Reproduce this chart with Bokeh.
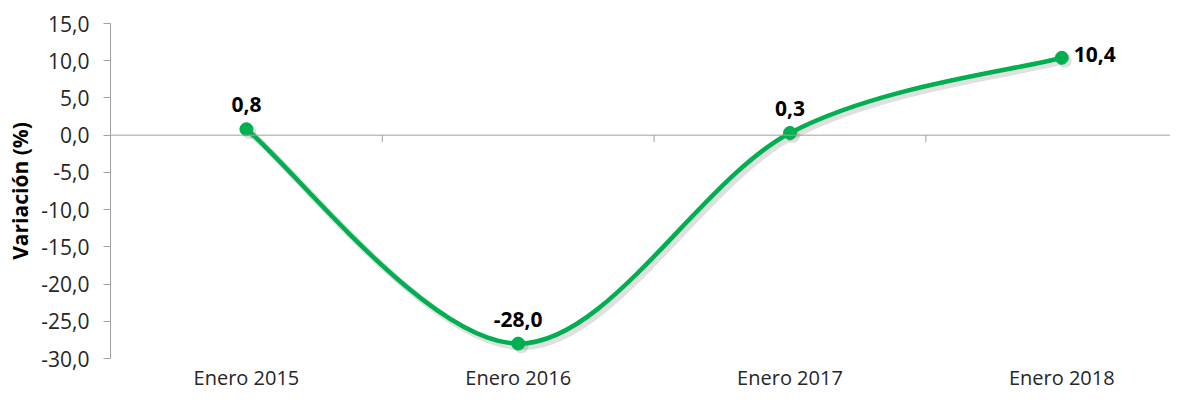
from bokeh.plotting import figure
from bokeh.models import LinearAxis, FixedTicker, Range1d, ColumnDataSource, Span
from bokeh.embed import file_html
from bokeh.resources import INLINE
from bokeh.core.properties import value

categories = ["Enero 2015", "Enero 2016", "Enero 2017", "Enero 2018"]
values = [0.8, -28.0, 0.3, 10.4]
value_labels = ["0,8", "-28,0", "0,3", "10,4"]
y_ticks = [-30, -25, -20, -15, -10, -5, 0, 5, 10, 15]
y_tick_labels = ["-30,0", "-25,0", "-20,0", "-15,0", "-10,0", "-5,0", "0,0", "5,0", "10,0", "15,0"]

GREEN = "#00B050"
AXIS = "#A0A0A0"
TXT = "#262626"
FONT = "Open Sans"

xs = list(range(len(categories)))
Y0, Y1 = -30, 15
X0, X1 = -0.5, 3.40

W, H = 1170, 394
LEFT, TOP, BOTTOM = 110, 23, 36

p = figure(width=W, height=H, output_backend="svg", toolbar_location=None,
           x_range=Range1d(X0, X1), y_range=Range1d(Y0, Y1),
           x_axis_type=None, y_axis_type=None,
           min_border_left=LEFT, min_border_right=0, min_border_top=TOP, min_border_bottom=BOTTOM)
p.outline_line_color = None
p.xgrid.grid_line_color = None
p.ygrid.grid_line_color = None

# y axis
yax = LinearAxis(ticker=FixedTicker(ticks=y_ticks),
                 major_label_overrides={t: l for t, l in zip(y_ticks, y_tick_labels)})
yax.axis_line_color = AXIS
yax.major_tick_line_color = AXIS
yax.major_tick_in = 0
yax.major_tick_out = 7
yax.minor_tick_line_color = None
yax.major_label_text_font = FONT
yax.major_label_text_font_size = "21px"
yax.major_label_text_color = TXT
yax.major_label_standoff = 14
yax.axis_label = "Variación (%)"
yax.axis_label_text_font = FONT
yax.axis_label_text_font_style = "bold"
yax.axis_label_text_font_size = "21px"
yax.axis_label_text_color = "#000000"
yax.axis_label_standoff = 4
p.add_layout(yax, "left")

# category labels at bottom
xlab = LinearAxis(ticker=FixedTicker(ticks=xs),
                  major_label_overrides={i: c for i, c in zip(xs, categories)})
xlab.axis_line_color = None
xlab.major_tick_line_color = None
xlab.minor_tick_line_color = None
xlab.major_tick_in = 0
xlab.major_tick_out = 0
xlab.major_label_text_font = FONT
xlab.major_label_text_font_size = "20px"
xlab.major_label_text_color = TXT
xlab.major_label_standoff = 5
p.add_layout(xlab, "below")

# zero line with category boundary ticks
p.add_layout(Span(location=0, dimension="width", line_color=AXIS, line_width=1))
frame_h = H - TOP - BOTTOM
frame_w = W - LEFT
bounds = [i + 0.5 for i in xs]
tick_len = 7 * (Y1 - Y0) / frame_h
p.segment(x0=bounds, y0=[0] * len(bounds), x1=bounds, y1=[-tick_len] * len(bounds),
          line_color=AXIS, line_width=1)

# smooth curve (Catmull-Rom style bezier from the data points)
pts = list(zip(xs, values))
n = len(pts)
seg = dict(x0=[], y0=[], x1=[], y1=[], cx0=[], cy0=[], cx1=[], cy1=[])
for i in range(n - 1):
    p0 = pts[max(i - 1, 0)]
    p1 = pts[i]
    p2 = pts[i + 1]
    p3 = pts[min(i + 2, n - 1)]
    seg["x0"].append(p1[0]); seg["y0"].append(p1[1])
    seg["x1"].append(p2[0]); seg["y1"].append(p2[1])
    seg["cx0"].append(p1[0] + (p2[0] - p0[0]) / 6)
    seg["cy0"].append(p1[1] + (p2[1] - p0[1]) / 6)
    seg["cx1"].append(p2[0] - (p3[0] - p1[0]) / 6)
    seg["cy1"].append(p2[1] - (p3[1] - p1[1]) / 6)

# soft drop shadow (shifted a few pixels down-right)
dx = 3 * (X1 - X0) / frame_w
dy = 3 * (Y1 - Y0) / frame_h
shadow = {k: [v + (dx if k.startswith(("x", "cx")) else -dy) for v in vals] for k, vals in seg.items()}
p.bezier(x0="x0", y0="y0", x1="x1", y1="y1", cx0="cx0", cy0="cy0", cx1="cx1", cy1="cy1",
         source=ColumnDataSource(shadow), line_color="#000000", line_alpha=0.12, line_width=7)
p.scatter([x + dx for x in xs], [v - dy for v in values], size=14,
          fill_color="#000000", fill_alpha=0.12, line_color=None)

p.bezier(x0="x0", y0="y0", x1="x1", y1="y1", cx0="cx0", cy0="cy0", cx1="cx1", cy1="cy1",
         source=ColumnDataSource(seg), line_color=GREEN, line_width=4.5)

src = ColumnDataSource(dict(x=xs, y=values, t=value_labels))
p.scatter("x", "y", source=src, size=13, fill_color=GREEN, line_color=GREEN)

first = ColumnDataSource(dict(x=xs[:-1], y=values[:-1], t=value_labels[:-1]))
last = ColumnDataSource(dict(x=xs[-1:], y=values[-1:], t=value_labels[-1:]))
p.text("x", "y", text="t", source=first, text_align="center", text_baseline="bottom",
       y_offset=-17, text_font=value(FONT), text_font_size="21px", text_font_style="bold",
       text_color="#000000")
p.text("x", "y", text="t", source=last, text_align="left", text_baseline="middle",
       x_offset=12, y_offset=-3, text_font=value(FONT), text_font_size="21px",
       text_font_style="bold", text_color="#000000")

open("out.html", "w").write(file_html(p, INLINE))
